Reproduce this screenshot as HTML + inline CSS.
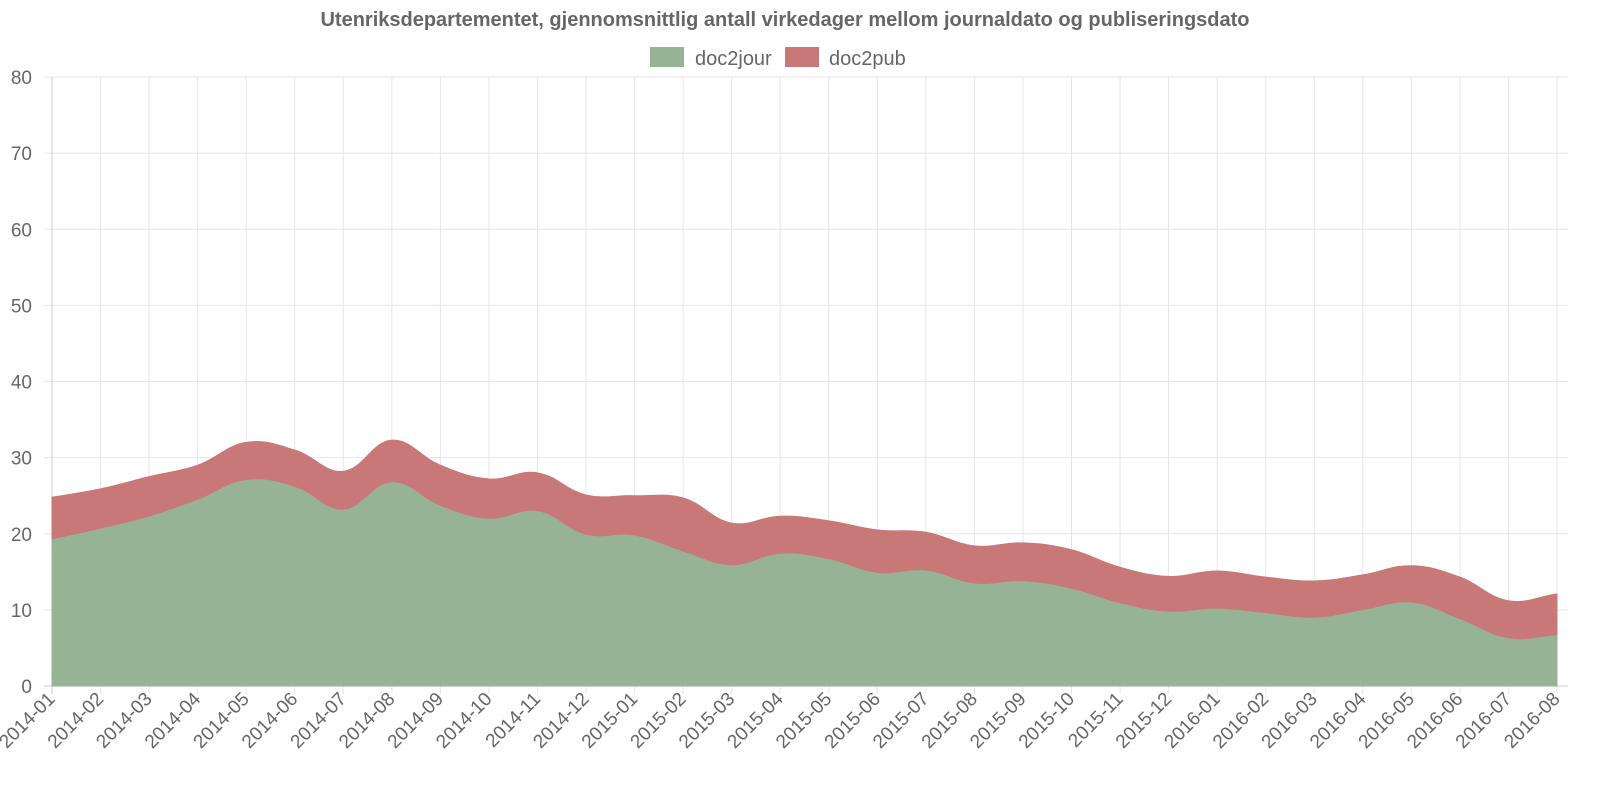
<!DOCTYPE html>
<html><head><meta charset="utf-8"><style>
body{margin:0;background:#fff;}
svg{display:block;font-family:"Liberation Sans",sans-serif;}
</style></head><body>
<svg id="chart" width="1619" height="809" viewBox="0 0 1619 809" xmlns="http://www.w3.org/2000/svg">
<text x="785" y="26" text-anchor="middle" font-size="20" font-weight="bold" fill="#666">Utenriksdepartementet, gjennomsnittlig antall virkedager mellom journaldato og publiseringsdato</text>
<g>
<g><rect x="650" y="47" width="34" height="20" fill="#96b495"/><text x="695" y="65" font-size="20" fill="#666">doc2jour</text></g>
<g><rect x="785" y="47" width="34" height="20" fill="#c97878"/><text x="829" y="65" font-size="20" fill="#666">doc2pub</text></g>
</g>
<g id="grid"></g>
<g id="areas"></g>
<g id="axes"></g>
</svg>
<script>
const categories=["2014-01","2014-02","2014-03","2014-04","2014-05","2014-06","2014-07","2014-08","2014-09","2014-10","2014-11","2014-12","2015-01","2015-02","2015-03","2015-04","2015-05","2015-06","2015-07","2015-08","2015-09","2015-10","2015-11","2015-12","2016-01","2016-02","2016-03","2016-04","2016-05","2016-06","2016-07","2016-08"];
const doc2jour=[19.2,20.6,22.2,24.4,27,26.1,23.1,26.7,23.6,21.9,22.9,19.8,19.7,17.6,15.8,17.3,16.6,14.8,15.1,13.4,13.7,12.7,10.8,9.7,10.1,9.5,8.9,9.9,10.9,8.7,6.2,6.6];
const doc2pub=[5.6,5.3,5.3,4.6,5.0,4.9,5.1,5.6,5.4,5.3,5.1,5.3,5.3,7.1,5.6,5.0,5.1,5.7,5.1,5.0,5.1,5.2,4.8,4.7,5.0,4.8,4.9,4.7,4.9,5.6,5.0,5.5];
const yTicks=[0,10,20,30,40,50,60,70,80];
const NS="http://www.w3.org/2000/svg";
const X0=52,X1=1557,Y0=686,Y1=77,YMAX=80;
const xs=i=>X0+(X1-X0)*i/(categories.length-1);
const ys=v=>Y0-(Y0-Y1)*v/YMAX;
function mk(tag,attrs,parent){const e=document.createElementNS(NS,tag);for(const k in attrs)e.setAttribute(k,attrs[k]);parent.appendChild(e);return e;}
const grid=document.getElementById('grid'),axes=document.getElementById('axes'),areas=document.getElementById('areas');
yTicks.forEach(t=>{
 const l=mk('line',{x1:X0-8,x2:1568,y1:ys(t),y2:ys(t),stroke:t===0?'#ccc':'#e6e6e6','stroke-width':1},grid);
 
 
 const tx=mk('text',{x:32,y:ys(t)+7,'text-anchor':'end','font-size':19,fill:'#666'},axes);
 tx.textContent=t;
 
 
});
categories.forEach((c,i)=>{
 const x=xs(i);
 const l=mk('line',{x1:x,x2:x,y1:Y1,y2:Y0+8,stroke:i===0?'#ccc':'#e6e6e6','stroke-width':1},grid);
 
 
 const tx=mk('text',{x:x+4,y:Y0+14,'text-anchor':'end','font-size':19,fill:'#666',transform:`rotate(-45 ${x+4} ${Y0+14})`},axes);
 tx.textContent=c;
 
 
});
function curve(pts){
 const t=0.4;let d='';
 const cps=pts.map((p,i)=>{
  const prev=pts[i-1]||p,next=pts[i+1]||p;
  const d01=Math.hypot(p[0]-prev[0],p[1]-prev[1]),d12=Math.hypot(next[0]-p[0],next[1]-p[1]);
  let fa=d01/(d01+d12)||0,fb=d12/(d01+d12)||0;fa*=t;fb*=t;
  return {p:[p[0]-fa*(next[0]-prev[0]),p[1]-fa*(next[1]-prev[1])],n:[p[0]+fb*(next[0]-prev[0]),p[1]+fb*(next[1]-prev[1])]};
 });
 pts.forEach((p,i)=>{
  if(i===0)d+=`M${p[0]},${p[1]}`;
  else d+=` C${cps[i-1].n[0]},${cps[i-1].n[1]} ${cps[i].p[0]},${cps[i].p[1]} ${p[0]},${p[1]}`;
 });
 return d;
}
const totals=doc2jour.map((v,i)=>v+doc2pub[i]);
const ptsJ=doc2jour.map((v,i)=>[xs(i),ys(v)]);
const ptsT=totals.map((v,i)=>[xs(i),ys(v)]);
const revJ=[...ptsJ].reverse();
const pathPub=curve(ptsT)+` L${revJ[0][0]},${revJ[0][1]}`+curve(revJ).replace(/^M[^C]*/,' ')+' Z';
const a2=mk('path',{d:pathPub,fill:'#c97878',stroke:'#c97878','stroke-width':1},areas);


const pathJour=curve(ptsJ)+` L${xs(categories.length-1)},${Y0} L${X0},${Y0} Z`;
const a1=mk('path',{d:pathJour,fill:'#96b495',stroke:'#96b495','stroke-width':1},areas);


</script>
</body></html>
